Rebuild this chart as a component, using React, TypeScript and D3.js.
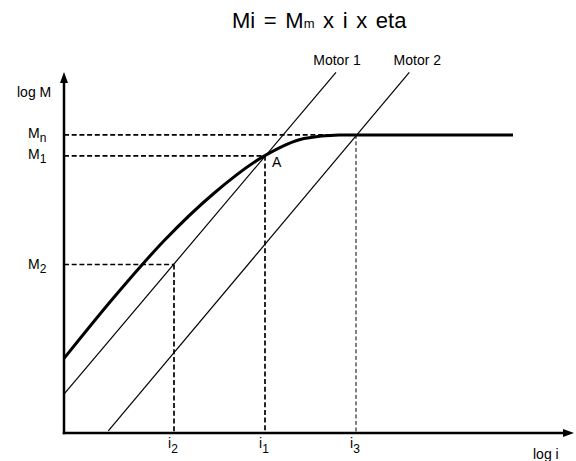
import React from 'react';
import * as d3 from 'd3';

const W = 576;
const H = 461;

// abstract "log" units
const iNames = ['i', 'i', 'i'];
const iSubs = ['2', '1', '3'];
const iValues = [22, 40.2, 58.4];

const mNames = ['M', 'M', 'M'];
const mSubs = ['n', '1', '2'];
const mValues = [82.8, 77, 46.8];

// which i each M guide connects to (index into iValues)
const guideLinks = [2, 1, 0];

const curveLogI = [0, 10, 20, 30, 40, 48, 55, 89.8];
const curveLogM = [20.7, 37.7, 53.4, 66.6, 76.9, 81.8, 82.8, 82.8];

const motorNames = ['Motor 1', 'Motor 2'];
const motorLogI = [[0, 54.4], [8.86, 69.06]];
const motorLogM = [[10.8, 100.2], [0.56, 100.2]];

const FONT = '"Liberation Sans", Arial, Helvetica, sans-serif';

export default function App() {
  const x = d3.scaleLinear().domain([0, 100]).range([64, 564]);
  const y = d3.scaleLinear().domain([0, 100]).range([433, 73]);

  const curvePts: [number, number][] = curveLogI.map((v, k) => [x(v), y(curveLogM[k])]);
  const curvePath = d3.line().curve(d3.curveMonotoneX)(curvePts) || '';

  const x0 = x(0);
  const y0 = y(0);

  return (
    <svg
      width={W}
      height={H}
      style={{ position: 'absolute', left: 0, top: 0, background: '#fff' }}
      fontFamily={FONT}
    >
      <rect width={W} height={H} fill="#fff" />
      {/* title */}
      <text x={232} y={28} fontSize={22} fill="#000" wordSpacing={2.5}>
        Mi = M<tspan fontSize={13}>m</tspan> x i x eta
      </text>

      {/* guide dashed lines */}
      {mValues.map((mv, k) => {
        const iv = iValues[guideLinks[k]];
        const thin = k === 0;
        return (
          <g key={'g' + k}>
            <line
              x1={x0}
              x2={x(iv)}
              y1={y(mv)}
              y2={y(mv)}
              stroke="#000"
              strokeWidth={1.7}
              strokeDasharray="5,2.7"
            />
            <line
              x1={x(iv)}
              x2={x(iv)}
              y1={y(mv)}
              y2={y0}
              stroke="#000"
              strokeWidth={thin ? 1 : 1.7}
              strokeDasharray={thin ? '4,2.5' : '5,2.7'}
            />
          </g>
        );
      })}

      {/* motor lines */}
      {motorNames.map((nm, k) => (
        <g key={nm}>
          <line
            x1={x(motorLogI[k][0])}
            y1={y(motorLogM[k][0])}
            x2={x(motorLogI[k][1])}
            y2={y(motorLogM[k][1])}
            stroke="#000"
            strokeWidth={1.2}
          />
          <text
            x={x(motorLogI[k][1]) + (k === 0 ? 1 : 8)}
            y={y(motorLogM[k][1]) - 7}
            fontSize={14}
            textAnchor="middle"
            fill="#000"
          >
            {nm}
          </text>
        </g>
      ))}

      {/* characteristic curve */}
      <path d={curvePath} fill="none" stroke="#000" strokeWidth={3} />

      {/* axes */}
      <line x1={x0} y1={y0 + 1.2} x2={x0} y2={80} stroke="#000" strokeWidth={2.5} />
      <polygon points={`${x0},72 ${x0 - 4},83 ${x0 + 4},83`} fill="#000" />
      <line x1={x0 - 1.2} y1={y0} x2={565} y2={y0} stroke="#000" strokeWidth={2.5} />
      <polygon points={`574,${y0} 563,${y0 - 4} 563,${y0 + 4}`} fill="#000" />

      <text x={17} y={97} fontSize={14} fill="#000">log M</text>
      <text x={533} y={459} fontSize={14} fill="#000">log i</text>

      {/* M labels */}
      {mValues.map((mv, k) => (
        <text key={'m' + k} x={28} y={y(mv) + (k === 2 ? 4.5 : 3)} fontSize={14} fill="#000">
          {mNames[k]}
          <tspan fontSize={12} dy={4}>{mSubs[k]}</tspan>
        </text>
      ))}

      {/* i labels */}
      {iValues.map((iv, k) => (
        <text key={'i' + k} x={x(iv) - 6} y={448} fontSize={14} fill="#000">
          {iNames[k]}
          <tspan fontSize={12} dy={5}>{iSubs[k]}</tspan>
        </text>
      ))}

      {/* point A */}
      <text x={x(iValues[1]) + 7} y={y(mValues[1]) + 11} fontSize={14} fill="#000">A</text>
    </svg>
  );
}
